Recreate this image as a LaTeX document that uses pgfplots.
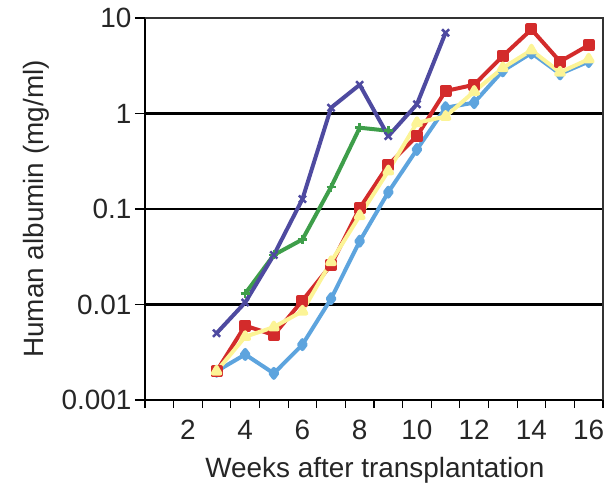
\documentclass[border=0pt]{standalone}
\usepackage{fontspec}
\setmainfont{Liberation Sans}
\usepackage{pgfplots}
\pgfplotsset{compat=1.18}
\definecolor{cPurple}{RGB}{78,74,160}
\definecolor{cGreen}{RGB}{62,158,74}
\definecolor{cRed}{RGB}{211,43,43}
\definecolor{cYellow}{RGB}{252,244,150}
\definecolor{cBlue}{RGB}{93,164,222}
\begin{document}
\begin{tikzpicture}
\begin{axis}[
  scale only axis,
  width=458bp, height=382bp,
  ymode=log, ymin=0.001, ymax=10,
  xmin=0.5, xmax=16.5,
  xtick={2,4,...,16},
  xticklabels={2,4,6,8,10,12,14,16},
  minor xtick={0.5,1.5,...,16.5},
  major x tick style={draw=none},
  minor x tick style={black, line width=1.2bp},
  minor tick length=8bp,
  ytick={0.001,0.01,0.1,1,10},
  yticklabels={0.001,0.01,0.1,1,10},
  minor y tick style={draw=none},
  major y tick style={black, line width=1.2bp},
  major tick length=10bp,
  tick align=outside,
  tick pos=left,
  axis line style={black, line width=1.4bp},
  ymajorgrids,
  grid style={black, line width=2.4bp},
  every tick label/.append style={font=\fontsize{28}{32}\selectfont, text=black!85},
  xticklabel style={yshift=-7bp},
  label style={font=\fontsize{28}{32}\selectfont, text=black!85},
  xlabel={Weeks after transplantation},
  ylabel={Human albumin (mg/ml)},
  xlabel style={at={(axis description cs:0.502,-0.183)}, anchor=center},
  ylabel style={at={(axis description cs:-0.238,0.5)}, anchor=center},
  every axis plot/.append style={line width=4bp, line join=round},
  clip=false,
]
\addplot[cBlue, mark=diamond*, mark size=4.5bp, mark options={solid}] coordinates {
(3,0.002)(4,0.003)(5,0.0019)(6,0.0038)(7,0.0115)(8,0.046)(9,0.15)(10,0.42)(11,1.15)(12,1.3)(13,2.8)(14,4.3)(15,2.6)(16,3.5)};
\addplot[cRed, mark=square*, mark size=4bp] coordinates {
(3,0.002)(4,0.006)(5,0.0048)(6,0.011)(7,0.026)(8,0.102)(9,0.29)(10,0.58)(11,1.72)(12,2.0)(13,4.0)(14,7.6)(15,3.5)(16,5.2)};
\addplot[cYellow, mark=triangle*, mark size=4.5bp] coordinates {
(3,0.002)(4,0.0046)(5,0.0058)(6,0.0085)(7,0.028)(8,0.085)(9,0.25)(10,0.8)(11,0.93)(12,1.7)(13,3.0)(14,4.6)(15,2.7)(16,3.7)};
\addplot[cGreen, mark=+, mark size=4.5bp, mark options={line width=2.5bp}] coordinates {
(4,0.013)(5,0.033)(6,0.048)(7,0.17)(8,0.71)(9,0.66)};
\addplot[cPurple, mark=x, mark size=5bp, mark options={line width=2.5bp}] coordinates {
(3,0.005)(4,0.0105)(5,0.033)(6,0.127)(7,1.15)(8,2.0)(9,0.58)(10,1.25)(11,7.0)};
\draw[black!80, line width=2bp] (rel axis cs:0,1) -- (rel axis cs:1,1) -- (rel axis cs:1,0);
\end{axis}
\path (current axis.south west) ++(-145bp,-82bp) rectangle ++(614bp,482bp);
\end{tikzpicture}
\end{document}
